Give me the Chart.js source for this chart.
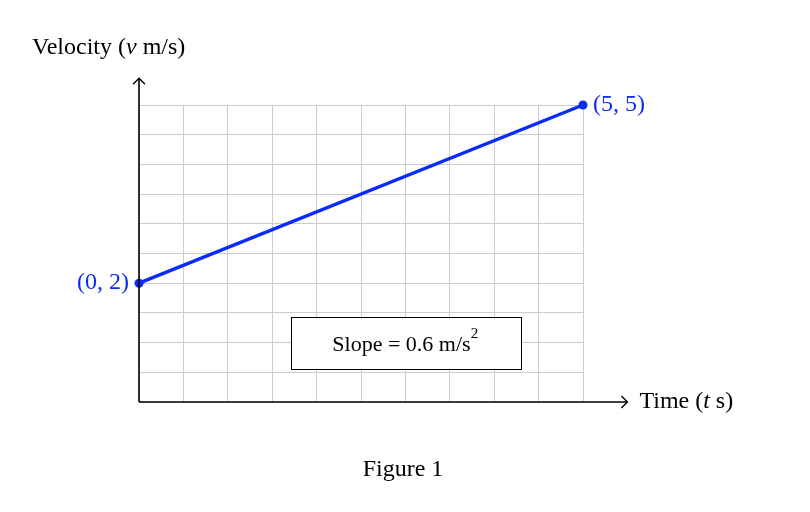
<!DOCTYPE html>
<html>
<head>
<meta charset="utf-8">
<script src="https://cdn.jsdelivr.net/npm/chart.js@4"></script>
<style>
  html, body { margin: 0; padding: 0; background: #fff; }
  #wrap { width: 810px; height: 512px; }
</style>
</head>
<body>
<div id="wrap"><canvas id="chart" width="810" height="512"></canvas></div>
<script>
const times = [0, 5];
const velocities = [2, 5];
const pointLabels = ['(0, 2)', '(5, 5)'];
const xLabel = 'Time (t s)';
const yLabel = 'Velocity (v m/s)';
const slopeText = 'Slope = 0.6 m/s';
const caption = 'Figure 1';

const blue = '#0b2cf5';
const serif = '"Liberation Serif", "DejaVu Serif", serif';

// axes with arrows, labels, slope box, caption
const decor = {
    id: 'decor',
    afterDraw(chart) {
        const { ctx, scales: { x, y } } = chart;
        const x0 = x.getPixelForValue(0), y0 = y.getPixelForValue(0);
        const xEnd = x.getPixelForValue(5.5), yEnd = y.getPixelForValue(5.45);
        ctx.save();
        ctx.strokeStyle = '#000';
        ctx.lineWidth = 1.6;
        ctx.beginPath();
        ctx.moveTo(x0, y0); ctx.lineTo(xEnd, y0);
        ctx.moveTo(x0, y0); ctx.lineTo(x0, yEnd);
        ctx.stroke();
        ctx.lineWidth = 1.4;
        ctx.beginPath();
        ctx.moveTo(xEnd - 6, y0 - 6); ctx.lineTo(xEnd, y0); ctx.lineTo(xEnd - 6, y0 + 6);
        ctx.moveTo(x0 - 6, yEnd + 6); ctx.lineTo(x0, yEnd); ctx.lineTo(x0 + 6, yEnd + 6);
        ctx.stroke();

        ctx.fillStyle = '#000';
        ctx.font = '24px ' + serif;
        ctx.textBaseline = 'middle';
        ctx.textAlign = 'left';
        ctx.fillText('Time (', xEnd + 12, y0);
        let w = ctx.measureText('Time (').width;
        ctx.font = 'italic 24px ' + serif;
        ctx.fillText('t', xEnd + 12 + w, y0);
        w += ctx.measureText('t ').width;
        ctx.font = '24px ' + serif;
        ctx.fillText('s)', xEnd + 12 + w, y0);

        ctx.textAlign = 'left';
        let lx = 32, ly = 48;
        ctx.fillText('Velocity (', lx, ly);
        lx += ctx.measureText('Velocity (').width;
        ctx.font = 'italic 24px ' + serif;
        ctx.fillText('v', lx, ly);
        lx += ctx.measureText('v ').width;
        ctx.font = '24px ' + serif;
        ctx.fillText('m/s)', lx, ly);

        // point labels
        ctx.fillStyle = blue;
        const p0 = chart.getDatasetMeta(0).data;
        ctx.textAlign = 'right';
        ctx.fillText(pointLabels[0], p0[0].x - 10, p0[0].y);
        ctx.textAlign = 'left';
        ctx.fillText(pointLabels[1], p0[1].x + 10, p0[1].y);

        // slope box
        const bx = 291, by = 317, bw = 230, bh = 52;
        ctx.fillStyle = '#fff';
        ctx.fillRect(bx, by, bw, bh);
        ctx.strokeStyle = '#000';
        ctx.lineWidth = 1;
        ctx.strokeRect(bx + 0.5, by + 0.5, bw, bh);
        ctx.fillStyle = '#000';
        ctx.font = '22px ' + serif;
        ctx.textAlign = 'left';
        const tw = ctx.measureText(slopeText).width;
        const sx = bx + (bw - tw - 9) / 2;
        ctx.fillText(slopeText, sx, by + bh / 2 + 2);
        ctx.font = '15px ' + serif;
        ctx.fillText('2', sx + tw, by + bh / 2 - 9);

        ctx.font = '24px ' + serif;
        ctx.textAlign = 'center';
        ctx.fillText(caption, 403, 470);
        ctx.restore();
    }
};

new Chart(document.getElementById('chart'), {
    type: 'line',
    data: {
        datasets: [{
            data: times.map((t, i) => ({ x: t, y: velocities[i] })),
            borderColor: blue,
            backgroundColor: blue,
            borderWidth: 3.5,
            pointRadius: 4.5,
            pointBackgroundColor: blue,
            pointBorderWidth: 0,
            clip: false,
        }]
    },
    options: {
        responsive: false,
        animation: false,
        layout: { padding: { left: 139, right: 227, top: 105, bottom: 110 } },
        plugins: { legend: { display: false }, tooltip: { enabled: false } },
        scales: {
            x: {
                type: 'linear', min: 0, max: 5,
                ticks: { display: false, stepSize: 0.5 },
                grid: { color: '#cccccc', lineWidth: 1, drawTicks: false },
                border: { display: false },
            },
            y: {
                type: 'linear', min: 0, max: 5,
                ticks: { display: false, stepSize: 0.5 },
                grid: { color: '#cccccc', lineWidth: 1, drawTicks: false },
                border: { display: false },
            }
        }
    },
    plugins: [decor]
});
</script>
</body>
</html>
